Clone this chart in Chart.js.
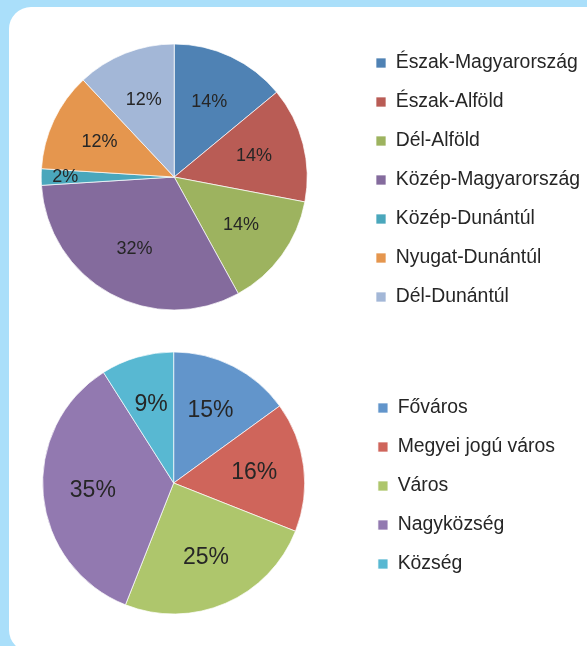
<!DOCTYPE html>
<html lang="hu">
<head>
<meta charset="utf-8">
<title>Régiók és településtípusok</title>
<script src="https://cdn.jsdelivr.net/npm/chart.js@4.4.1/dist/chart.umd.min.js"></script>
<style>
  html, body { margin: 0; padding: 0; }
  body {
    width: 587px; height: 646px; overflow: hidden;
    background: #aadffa; position: relative;
    font-family: "Liberation Sans", Arial, sans-serif;
  }
  .kartya {
    position: absolute; left: 9px; top: 7px; width: 620px; height: 645px;
    background: #fff; border-radius: 22px;
  }
  #regiok { position: absolute; left: -8px; top: 17px; }
  #telepulesek { position: absolute; left: -11px; top: 323px; }
</style>
</head>
<body>
<div class="kartya"></div>
<canvas id="regiok" width="598" height="320"></canvas>
<canvas id="telepulesek" width="576" height="320"></canvas>

<script>
// Régiók megoszlása (%)
const regioNevek = ["Észak-Magyarország", "Észak-Alföld", "Dél-Alföld", "Közép-Magyarország",
  "Közép-Dunántúl", "Nyugat-Dunántúl", "Dél-Dunántúl"];
const regioErtekek = [14, 14, 14, 32, 2, 12, 12];
const regioSzinek = ["#4f82b4", "#b95c55", "#9db35f", "#846b9d", "#4aa7bc", "#e5964e", "#a3b7d7"];

// Településtípusok megoszlása (%)
const tipusNevek = ["Főváros", "Megyei jogú város", "Város", "Nagyközség", "Község"];
const tipusErtekek = [15, 16, 25, 35, 9];
const tipusSzinek = ["#6295cb", "#cf655b", "#aec66c", "#9279b0", "#58b8d2"];

const betu = '"Liberation Sans", Arial, sans-serif';

// százalék feliratok a szeleteken
const szazalekFelirat = {
  id: "szazalekFelirat",
  afterDatasetsDraw(chart, args, opts) {
    const ctx = chart.ctx;
    const meta = chart.getDatasetMeta(0);
    const adatok = chart.data.datasets[0].data;
    ctx.save();
    ctx.fillStyle = "#262626";
    ctx.font = opts.meret + "px " + betu;
    ctx.textAlign = "center";
    ctx.textBaseline = "middle";
    meta.data.forEach(function (iv, i) {
      const p = iv.getProps(["x", "y", "startAngle", "endAngle", "outerRadius"], true);
      const szog = (p.startAngle + p.endAngle) / 2;
      const tav = p.outerRadius * (adatok[i] < 5 ? 0.82 : 0.62);
      ctx.fillText(adatok[i] + "%", p.x + Math.cos(szog) * tav, p.y + Math.sin(szog) * tav);
    });
    ctx.restore();
  }
};

function kordiagram(id, nevek, ertekek, szinek, sugar, feliratMeret) {
  return new Chart(document.getElementById(id), {
    type: "pie",
    data: {
      labels: nevek,
      datasets: [{
        data: ertekek,
        backgroundColor: szinek,
        borderColor: "rgba(255,255,255,0.7)",
        borderWidth: 1,
        radius: sugar
      }]
    },
    options: {
      responsive: false,
      animation: false,
      events: [],
      layout: { padding: 0 },
      plugins: {
        tooltip: { enabled: false },
        szazalekFelirat: { meret: feliratMeret },
        legend: {
          position: "right",
          align: "center",
          // üres cím: a jelmagyarázatot kicsit lejjebb tolja
          title: { display: true, text: " ", font: { size: 5 }, padding: 0 },
          labels: {
            boxWidth: 10,
            boxHeight: 10,
            padding: 19.6,
            color: "#262626",
            font: { family: betu, size: 19.4 }
          }
        }
      }
    },
    plugins: [szazalekFelirat]
  });
}

kordiagram("regiok", regioNevek, regioErtekek, regioSzinek, 133, 18);
kordiagram("telepulesek", tipusNevek, tipusErtekek, tipusSzinek, 131, 23);
</script>
</body>
</html>
